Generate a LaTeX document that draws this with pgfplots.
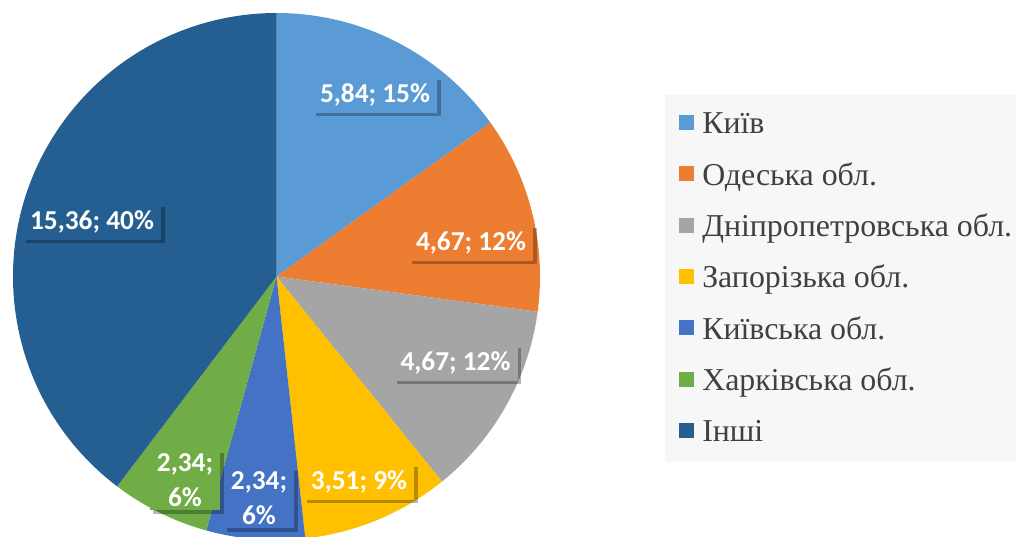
\documentclass[border=0pt]{standalone}
\usepackage{pgfplots}
\usepackage{pgfplotstable}
\pgfplotsset{compat=1.18}
\usepackage{fontspec}
\setmainfont{Liberation Serif}
\newfontfamily\lblfont{Carlito}
\usetikzlibrary{shadows}
\definecolor{slice0}{HTML}{5B9BD5}
\definecolor{slice1}{HTML}{ED7D31}
\definecolor{slice2}{HTML}{A5A5A5}
\definecolor{slice3}{HTML}{FFC000}
\definecolor{slice4}{HTML}{4472C4}
\definecolor{slice5}{HTML}{70AD47}
\definecolor{slice6}{HTML}{255E91}
\definecolor{legbg}{HTML}{F7F7F7}
\definecolor{legtext}{HTML}{404040}

\pgfplotstableread{
idx value
0 5.84
1 4.67
2 4.67
3 3.51
4 2.34
5 2.34
6 15.36
}\piedata

\begin{document}
\begin{tikzpicture}
\useasboundingbox (0,0) rectangle (762pt,-402pt);
\fill[white] (0,0) rectangle (762pt,-402pt);
\begin{scope}[x=0.75pt,y=-0.75pt]
\fill[legbg] (665,95) rectangle (1016,462);
\end{scope}
% cumulative angles
\xdef\total{0}
\foreach \i in {0,...,6}{
  \pgfplotstablegetelem{\i}{value}\of\piedata
  \pgfmathsetmacro\tt{\total+\pgfplotsretval}
  \xdef\total{\tt}
}
\xdef\cum{0}
\foreach \i in {0,...,6}{
  \pgfplotstablegetelem{\i}{value}\of\piedata
  \pgfmathsetmacro\s{90-\cum/\total*360}
  \pgfmathsetmacro\nc{\cum+\pgfplotsretval}
  \pgfmathsetmacro\e{90-\nc/\total*360}
  \expandafter\xdef\csname sa\i\endcsname{\s}
  \expandafter\xdef\csname ea\i\endcsname{\e}
  \xdef\cum{\nc}
}
\def\R{197.625pt}
\begin{axis}[scale only axis, width=395.25pt, height=395.25pt,
  xmin=-1, xmax=1, ymin=-1, ymax=1, hide axis, clip=false,
  anchor=origin, at={(207.375pt,-207.375pt)}]
\pgfplotsinvokeforeach{0,...,6}{
  \fill[slice#1] (axis cs:0,0) -- ++(\csname sa#1\endcsname:\R)
    arc[start angle=\csname sa#1\endcsname, end angle=\csname ea#1\endcsname, radius=\R] -- cycle;
}
\end{axis}
\begin{scope}[x=0.75pt,y=-0.75pt,
  lbl/.style={font=\lblfont\bfseries\fontsize{20.5pt}{26pt}\selectfont, text=white,
    inner xsep=5.5pt, inner ysep=3pt, minimum height=27pt, align=center,
    drop shadow={shadow xshift=2.5pt, shadow yshift=-2.5pt, opacity=0.28, fill=black}}]
\node[lbl, fill=slice0] at (375,95) {5,84; 15\%};
\node[lbl, fill=slice1] at (471,243) {4,67; 12\%};
\node[lbl, fill=slice2] at (455.5,363) {4,67; 12\%};
\node[lbl, fill=slice3] at (359,482) {3,51; 9\%};
\node[lbl, fill=slice4] at (259,498) {2,34;\\6\%};
\node[lbl, fill=slice5] at (185,480) {2,34;\\6\%};
\node[lbl, fill=slice6] at (92,222) {15,36; 40\%};
% legend
\foreach \c/\y/\t in {0/122/{Київ},1/173.5/{Одеська обл.},2/225/{Дніпропетровська обл.},3/276/{Запорізька обл.},4/327.5/{Київська обл.},5/379/{Харківська обл.},6/430/{Інші}}{
  \fill[slice\c] (679,\y-7.5) rectangle (694,\y+7.5);
  \node[anchor=base west, inner sep=0pt, text=legtext, font=\fontsize{23.9pt}{28pt}\selectfont] at (702,\y+11.5) {\t};
}
\end{scope}
\end{tikzpicture}
\end{document}
